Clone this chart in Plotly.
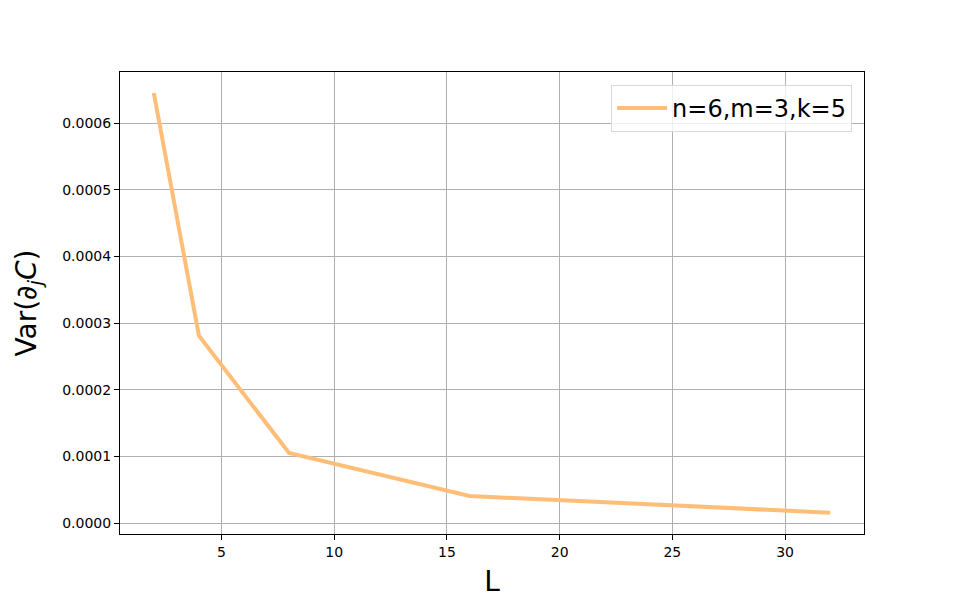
import plotly.graph_objects as go

L_vals = [2, 4, 8, 16, 32]
var_vals = [0.000645, 0.000281, 0.000105, 0.0000404, 0.0000155]
series_name = "n=6,m=3,k=5"
y_ticks = [0.0, 0.0001, 0.0002, 0.0003, 0.0004, 0.0005, 0.0006]
x_ticks = [5, 10, 15, 20, 25, 30]

fig = go.Figure()
fig.add_trace(go.Scatter(
    x=L_vals, y=var_vals, mode="lines", name=series_name,
    line=dict(color="#ffbe78", width=4),
))

font_family = "DejaVu Sans"
fig.update_layout(
    width=960, height=600,
    margin=dict(l=112, r=104, t=64, b=74),
    plot_bgcolor="white", paper_bgcolor="white",
    font=dict(family=font_family, size=14, color="black"),
    showlegend=True,
    legend=dict(
        x=0.984, y=0.972, xanchor="right", yanchor="top",
        font=dict(size=24, family=font_family),
        itemwidth=50,
        bordercolor="#d9d9d9", borderwidth=1, bgcolor="rgba(255,255,255,0.8)",
    ),
    xaxis=dict(
        range=[0.5, 33.5], tickvals=x_ticks,
        showgrid=True, gridcolor="#b0b0b0", gridwidth=1,
        showline=True, linecolor="black", linewidth=1, mirror=True,
        ticks="outside", ticklen=5, tickcolor="black",
        zeroline=False,
        title=dict(text="L", font=dict(size=28, family=font_family), standoff=12),
    ),
    yaxis=dict(
        range=[-0.0000165, 0.0006765], tickvals=y_ticks, tickformat=".4f",
        showgrid=True, gridcolor="#b0b0b0", gridwidth=1,
        showline=True, linecolor="black", linewidth=1, mirror=True,
        ticks="outside", ticklen=5, tickcolor="black",
        zeroline=False,
        title=dict(text="Var(∂<sub><i>j</i></sub><i>C</i>)", font=dict(size=28, family=font_family), standoff=17),
    ),
)

fig.write_html("out.html")
